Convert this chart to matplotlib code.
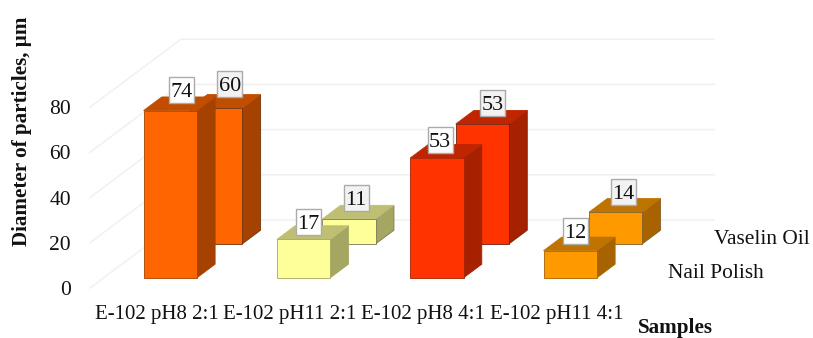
import matplotlib
matplotlib.use('Agg')
import matplotlib.pyplot as plt
from matplotlib.patches import Polygon, Rectangle

plt.rcParams['font.family'] = ['Liberation Serif', 'DejaVu Serif']

# data
samples = ['E-102 pH8 2:1', 'E-102 pH11 2:1', 'E-102 pH8 4:1', 'E-102 pH11 4:1']
series_names = ['Nail Polish', 'Vaselin Oil']
nail_polish = [74, 17, 53, 12]
vaselin_oil = [60, 11, 53, 14]
y_ticks = [0, 20, 40, 60, 80]

# face colours per sample: front, top, side
front_cols = ['#FF6600', '#FFFF99', '#FF3300', '#FF9900']
top_cols = ['#C04D00', '#BFBF73', '#BF2600', '#BF7300']
side_cols = ['#A64200', '#A6A663', '#A62100', '#A66300']
edge_cols = ['#6E3410', '#77775A', '#6E2410', '#80602A']

W, H = 813, 338
PX_X = 133.33   # pixels per category
PX_Y = 2.26     # pixels per value unit
X0 = 156.6      # pixel of first category
Y0 = 288        # pixel of value 0

# oblique depth of the floor, in data units
DX = 91 / PX_X
DY = 68 / PX_Y
BAR_W = 0.4
ROWS = [(0.15, 0.35), (0.65, 0.85)]

# small label shifts in pixels, per row then sample
label_nudge = [[(2, 0), (-4.5, -3), (-6, -2), (-4, -1)],
               [(5, 4), (-2, 1), (1, 1), (-1.5, 0)]]


def proj(x, v, d):
    return x + d * DX, v + d * DY


fig = plt.figure(figsize=(W / 100, H / 100), dpi=100)
ax = fig.add_axes([0, 0, 1, 1])
ax.set_xlim(-X0 / PX_X, (W - X0) / PX_X)
ax.set_ylim((Y0 - H) / PX_Y, Y0 / PX_Y)
ax.axis('off')

# walls
grid = '#F1F1F1'
x_left, x_right = -0.5, len(samples) - 0.5
for t in y_ticks:
    xs, ys = zip(proj(x_left, t, 0), proj(x_left, t, 1), proj(x_right, t, 1))
    ax.plot(xs, ys, color=grid, lw=1.1, zorder=1)
    ax.text(x_left - 19 / PX_X, t, str(t), ha='right', va='center_baseline', fontsize=15.5, color='#111111')


def draw_bar(i, v, row, z):
    d0, d1 = ROWS[row]
    l, r = i - BAR_W / 2, i + BAR_W / 2
    # only the back row shows a dark outline
    ec = edge_cols[i] if row == 1 else side_cols[i]
    lw = 0.6
    ax.add_patch(Polygon([proj(l, 0, d0), proj(r, 0, d0), proj(r, v, d0), proj(l, v, d0)],
                         fc=front_cols[i], ec=ec, lw=lw, zorder=z + 1))
    ax.add_patch(Polygon([proj(r, 0, d0), proj(r, 0, d1), proj(r, v, d1), proj(r, v, d0)],
                         fc=side_cols[i], ec=ec, lw=lw, zorder=z))
    ax.add_patch(Polygon([proj(l, v, d0), proj(r, v, d0), proj(r, v, d1), proj(l, v, d1)],
                         fc=top_cols[i], ec=top_cols[i], lw=lw, zorder=z))


def draw_label(i, v, row, fc):
    d0, d1 = ROWS[row]
    cx, cy = proj(i, v, (d0 + d1) / 2)
    nx, ny = label_nudge[row][i]
    cx += nx / PX_X
    cy += (13.5 + ny) / PX_Y
    bw, bh = 25 / PX_X, 26 / PX_Y
    ax.add_patch(Rectangle((cx - bw / 2, cy - bh / 2), bw, bh, fc=fc, ec='#ABABAB', lw=1, zorder=20))
    ax.text(cx, cy, str(v), ha='center', va='center_baseline', fontsize=16, color='#111111', zorder=21)


# back row first so the front row covers it
for i, v in enumerate(vaselin_oil):
    draw_bar(i, v, 1, 3)
for i, v in enumerate(nail_polish):
    draw_bar(i, v, 0, 6)
for i, v in enumerate(vaselin_oil):
    draw_label(i, v, 1, '#F2F2F2')
for i, v in enumerate(nail_polish):
    draw_label(i, v, 0, 'white')

# category labels
for i, s in enumerate(samples):
    ax.text(i, (Y0 - 315) / PX_Y, s, ha='center', va='center', fontsize=15, color='#111111')

# series labels at the end of each row
for row, name in enumerate(series_names):
    d = sum(ROWS[row]) / 2
    x, y = proj(x_right, 0, d)
    ax.text(x + 22 / PX_X, y - 2 / PX_Y, name, ha='left', va='center', fontsize=15.4, color='#111111')

fig.text(22 / W, 1 - 131 / H, 'Diameter of particles, µm', rotation=90, ha='center', va='center',
         fontsize=15.2, fontweight='bold', color='#111111')
fig.text(675.5 / W, 1 - 327.5 / H, 'Samples', ha='center', va='center',
         fontsize=15.2, fontweight='bold', color='#111111')

fig.savefig('out.png', dpi=100)
